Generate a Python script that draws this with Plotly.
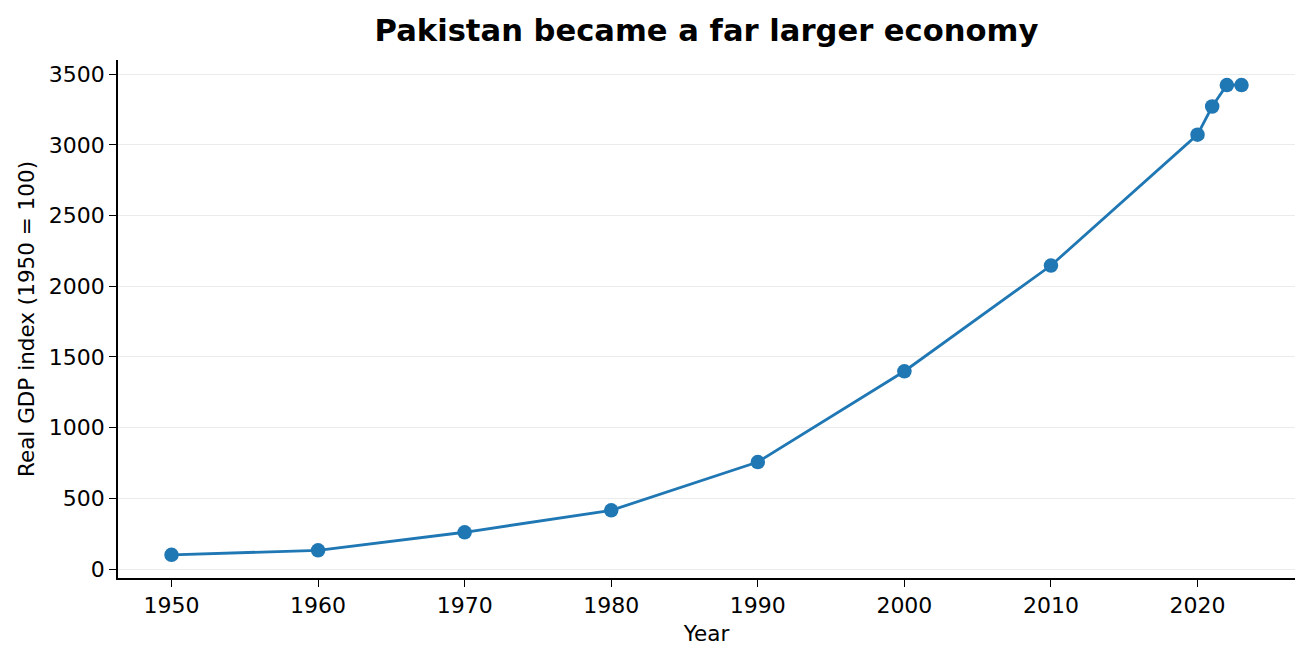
import plotly.graph_objects as go

years = [1950, 1960, 1970, 1980, 1990, 2000, 2010, 2020, 2021, 2022, 2023]
gdp_index = [100, 132, 260, 415, 757, 1399, 2147, 3073, 3272, 3424, 3424]

font = "DejaVu Sans, Arial, sans-serif"

fig = go.Figure()
fig.add_trace(go.Scatter(
    x=years,
    y=gdp_index,
    mode="lines+markers",
    line=dict(color="#1f77b4", width=2.8),
    marker=dict(color="#1f77b4", size=14.5),
    showlegend=False,
))

# page body adds an 8px offset, so the figure is a bit smaller than the window
fig.update_layout(
    width=1302,
    height=655,
    paper_bgcolor="white",
    plot_bgcolor="white",
    margin=dict(l=110, r=15, t=52, b=85),
    font=dict(family=font, size=22, color="black"),
    title=dict(
        text="<b>Pakistan became a far larger economy</b>",
        x=0.5, xanchor="center", xref="paper",
        y=1 - 22 / 655, yanchor="middle",
        font=dict(family=font, size=30.6, color="black"),
    ),
)

fig.update_xaxes(
    range=[1946.35, 2026.65],
    tickvals=[1950, 1960, 1970, 1980, 1990, 2000, 2010, 2020],
    showgrid=False, zeroline=False,
    showline=True, linecolor="black", linewidth=1.5,
    ticks="outside", ticklen=7, tickcolor="black", tickwidth=1.3,
    tickfont=dict(size=22),
    title=dict(text="Year", font=dict(size=21.5), standoff=9),
)
fig.update_yaxes(
    range=[-63.6, 3601],
    tickvals=[0, 500, 1000, 1500, 2000, 2500, 3000, 3500],
    showgrid=True, gridcolor="#ebebeb", gridwidth=1.2,
    zeroline=False,
    showline=True, linecolor="black", linewidth=1.5,
    ticks="outside", ticklen=7, tickcolor="black", tickwidth=1.3,
    tickfont=dict(size=22),
    title=dict(text="Real GDP index (1950 = 100)", font=dict(size=21.5), standoff=8),
)

fig.write_html("out.html")
